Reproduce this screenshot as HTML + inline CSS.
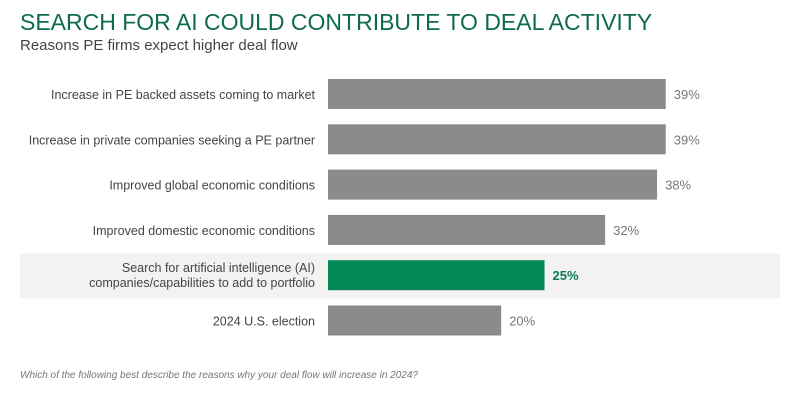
<!DOCTYPE html>
<html><head><meta charset="utf-8"><style>
body{margin:0;background:#fff;width:800px;height:400px;overflow:hidden;font-family:"Liberation Sans",sans-serif;}
.t{position:absolute;left:20px;top:9px;font-size:23px;color:#0e6b4f;letter-spacing:0px;}
.s{position:absolute;left:20px;top:37px;font-size:15px;color:#444;}
.f{position:absolute;left:20px;top:370px;font-size:10px;font-style:italic;color:#777;}
</style></head><body>
<div class="t">SEARCH FOR AI COULD CONTRIBUTE TO DEAL ACTIVITY</div>
<div class="s">Reasons PE firms expect higher deal flow</div>
<svg id="c" width="800" height="400" style="position:absolute;left:0;top:0"></svg>
<div class="f">Which of the following best describe the reasons why your deal flow will increase in 2024?</div>
<script>
const categories=[["Increase in PE backed assets coming to market"],["Increase in private companies seeking a PE partner"],["Improved global economic conditions"],["Improved domestic economic conditions"],["Search for artificial intelligence (AI)","companies/capabilities to add to portfolio"],["2024 U.S. election"]];
const values=[39,39,38,32,25,20];
const labels=["39%","39%","38%","32%","25%","20%"];
const highlight=[false,false,false,false,true,false];
const svg=document.getElementById('c');const NS='http://www.w3.org/2000/svg';
const x0=328,pxPer=8.66;
function xs(v){return v*pxPer;}
function yc(i){return 94+i*45.3;}
function mk(t,a){const e=document.createElementNS(NS,t);for(const k in a)e.setAttribute(k,a[k]);svg.appendChild(e);return e;}
categories.forEach((c,i)=>{
 const y=yc(i);
 if(highlight[i]){const bg=mk('rect',{x:20,y:y-22,width:760,height:45,fill:'#f2f2f2'});
  
  }
 const b=mk('rect',{x:x0,y:y-15,width:xs(values[i]),height:30,fill:highlight[i]?'#038754':'#8a8b8d'});
 
 
 const t=mk('text',{x:315,y:y+(c.length>1?-3:5),'text-anchor':'end','font-size':'12.5',fill:'#444'});
 
 
 c.forEach((ln,j)=>{const ts=document.createElementNS(NS,'tspan');ts.setAttribute('x',315);ts.setAttribute('dy',j?15:0);ts.textContent=ln;t.appendChild(ts);});
 const v=mk('text',{x:x0+xs(values[i])+8,y:y+5,'font-size':'13',fill:highlight[i]?'#0e7a55':'#777','font-weight':highlight[i]?'bold':'normal'});
 v.textContent=labels[i];
 
 
});
</script>
</body></html>
